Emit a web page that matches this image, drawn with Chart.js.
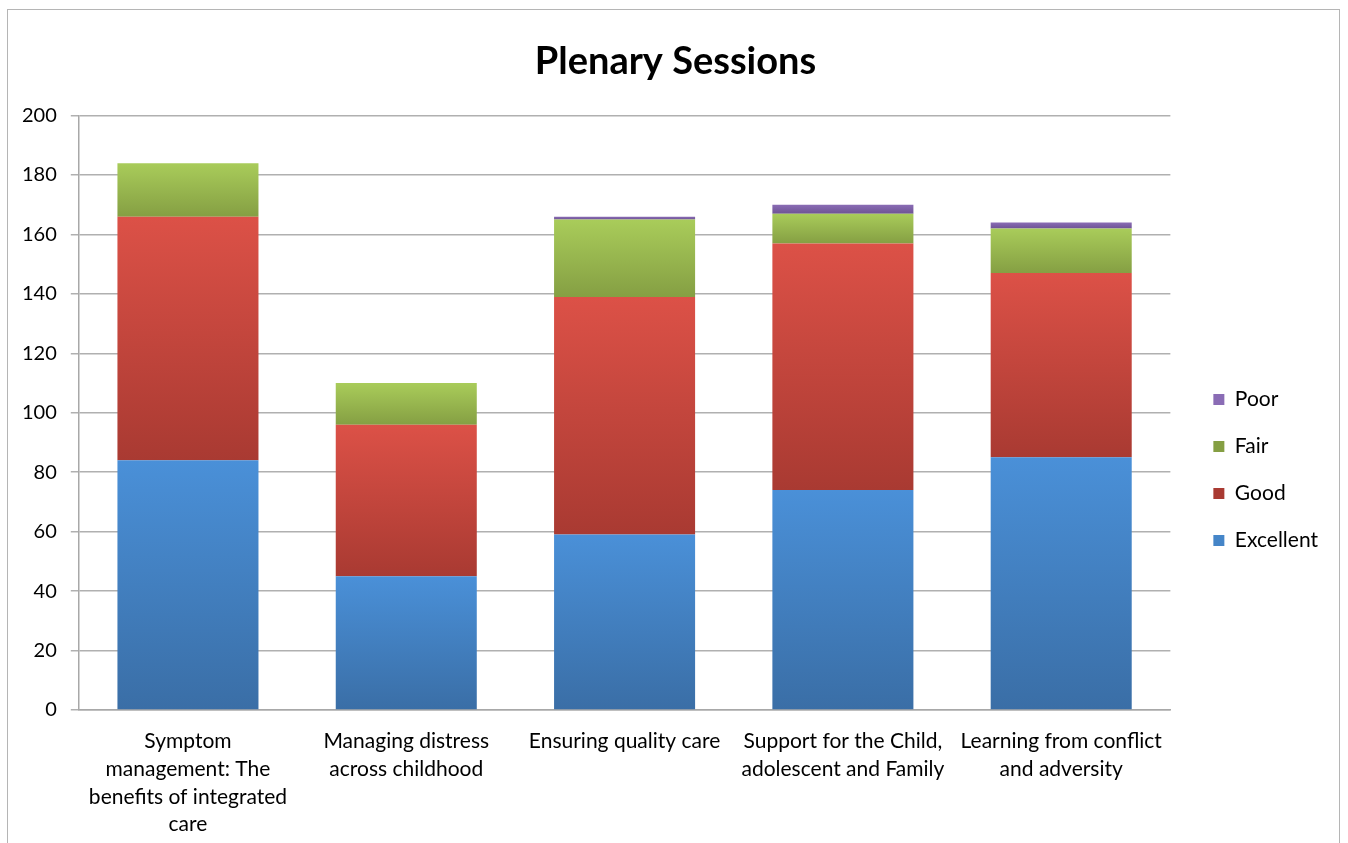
<!DOCTYPE html>
<html>
<head>
<meta charset="utf-8">
<script src="https://cdn.jsdelivr.net/npm/chart.js@4.4.1/dist/chart.umd.min.js"></script>
<style>
  body { margin: 0; background: #fff; }
  #wrap { position: relative; width: 1348px; height: 843px; overflow: hidden; }
  #frame { position: absolute; left: 7px; top: 9px; width: 1331px; height: 900px; border: 1.5px solid #b5b5b5; pointer-events: none; }
  canvas { position: absolute; left: 0; top: 0; }
</style>
</head>
<body>
<div id="wrap">
  <canvas id="chart" width="1348" height="848"></canvas>
  <div id="frame"></div>
</div>
<script>
const categories = [
  ["Symptom", "management: The", "benefits of integrated", "care"],
  ["Managing distress", "across childhood"],
  ["Ensuring quality care"],
  ["Support for the Child,", "adolescent and Family"],
  ["Learning from conflict", "and adversity"]
];
const excellent = [84, 45, 59, 74, 85];
const good = [82, 51, 80, 83, 62];
const fair = [18, 14, 26, 10, 15];
const poor = [0, 0, 1, 3, 2];
const yTicks = [0, 20, 40, 60, 80, 100, 120, 140, 160, 180, 200];

const series = [excellent, good, fair, poor];

// top/bottom colours for each segment's gradient
const shades = [
  ["#4a90d8", "#3a6ea6"],
  ["#dc5147", "#a93a32"],
  ["#a9cc5a", "#859f43"],
  ["#8a6cb5", "#6e5394"]
];

function segFill(ctx, i) {
  const chart = ctx.chart;
  const y = chart.scales.y;
  if (!y || !chart.chartArea || ctx.dataIndex === undefined) return shades[i][0];
  let base = 0;
  for (let k = 0; k < i; k++) base += series[k][ctx.dataIndex];
  const top = base + series[i][ctx.dataIndex];
  const y0 = y.getPixelForValue(base), y1 = y.getPixelForValue(top);
  if (!isFinite(y0) || !isFinite(y1) || y0 === y1) return shades[i][0];
  const g = chart.ctx.createLinearGradient(0, y1, 0, y0);
  g.addColorStop(0, shades[i][0]);
  g.addColorStop(1, shades[i][1]);
  return g;
}

const font = "Lato, 'Open Sans', sans-serif";

function ds(label, data, i) {
  return {
    label: label,
    data: data,
    backgroundColor: (c) => segFill(c, i),
    borderWidth: 0,
    categoryPercentage: 1,
    barPercentage: 0.646
  };
}

// nudge the legend and title, the way excel places them
const nudge = {
  id: "nudge",
  afterLayout(chart) {
    const l = chart.legend;
    if (l) {
      l.left += 17; l.right += 17;
      l.top += 46; l.bottom += 46;
    }
    const t = chart.titleBlock;
    if (t) { t.left += 16; t.right += 16; }
  }
};

new Chart(document.getElementById("chart"), {
  type: "bar",
  data: {
    labels: categories,
    datasets: [
      ds("Excellent", excellent, 0),
      ds("Good", good, 1),
      ds("Fair", fair, 2),
      ds("Poor", poor, 3)
    ]
  },
  plugins: [nudge],
  options: {
    responsive: false,
    animation: false,
    layout: { padding: { left: 8, right: 37, top: 0, bottom: 0 } },
    plugins: {
      title: {
        display: true,
        text: "Plenary Sessions",
        color: "#000",
        font: { family: font, size: 38, weight: "bold" },
        padding: { top: 39, bottom: 31 }
      },
      legend: {
        position: "right",
        reverse: true,
        labels: {
          color: "#000",
          font: { family: font, size: 21 },
          boxWidth: 11,
          boxHeight: 11,
          padding: 26
        }
      },
      tooltip: { enabled: false }
    },
    scales: {
      x: {
        stacked: true,
        grid: { display: false },
        border: { display: true, color: "#a8a8a8", width: 1.5 },
        ticks: {
          color: "#000",
          font: { family: font, size: 21, lineHeight: 1.31 },
          maxRotation: 0,
          autoSkip: false,
          padding: 10
        }
      },
      y: {
        stacked: true,
        min: 0,
        max: 200,
        afterBuildTicks: (axis) => { axis.ticks = yTicks.map(v => ({ value: v })); },
        grid: { color: "#b0b0b0", lineWidth: 1.5, tickLength: 8 },
        border: { display: true, color: "#a8a8a8", width: 1.5 },
        ticks: {
          color: "#000",
          font: { family: font, size: 20 },
          padding: 14
        }
      }
    }
  }
});
</script>
</body>
</html>
